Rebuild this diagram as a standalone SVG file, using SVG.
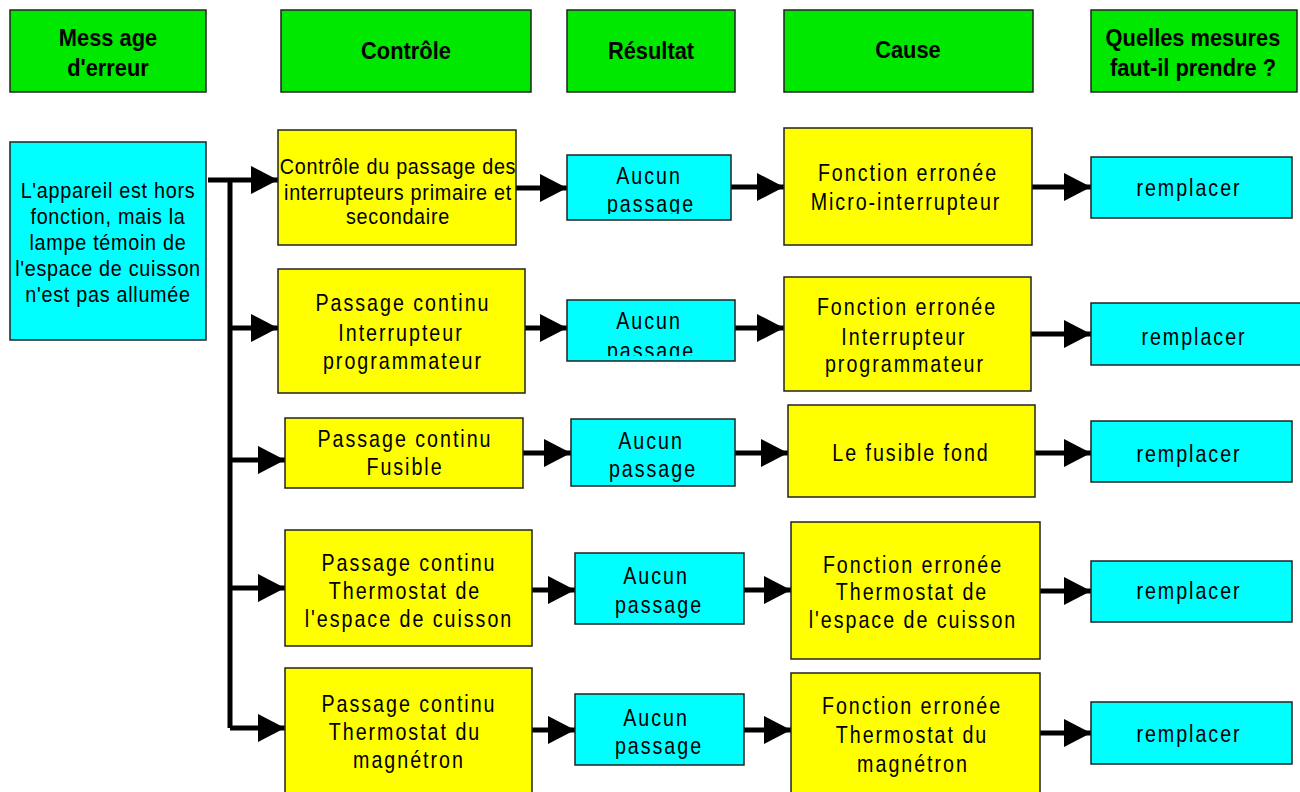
<svg xmlns="http://www.w3.org/2000/svg" width="1300" height="792" viewBox="0 0 1300 792">
<style>
.bg{fill:#fff}
.hd{fill:#00e800;stroke:#222;stroke-width:1.5}
.cy{fill:#00ffff;stroke:#222;stroke-width:1.5}
.ye{fill:#ffff00;stroke:#222;stroke-width:1.5}
text{font-family:"Liberation Sans",Arial,sans-serif;fill:#000;text-anchor:middle}
.h{font-weight:bold;font-size:23px;transform-box:fill-box;transform-origin:center;transform:scaleX(0.95)}
.t{font-size:24px;letter-spacing:2.4px;transform-box:fill-box;transform-origin:center;transform:scaleX(0.82)}
.s{font-size:22px;letter-spacing:0.8px;transform-box:fill-box;transform-origin:center;transform:scaleX(0.9)}
.c{fill:none;stroke:#000;stroke-width:5}
.a{fill:none;stroke:#000;stroke-width:5;marker-end:url(#ah)}
</style>
<defs>
<marker id="ah" markerUnits="userSpaceOnUse" markerWidth="28" markerHeight="28" refX="27" refY="14" orient="auto" viewBox="0 0 28 28">
<path d="M0,0 L27,14 L0,28 z" fill="#000"/>
</marker>
<clipPath id="clipA1"><rect x="567" y="155" width="164" height="59"/></clipPath>
<clipPath id="clipA2"><rect x="567" y="300" width="168" height="56"/></clipPath>
</defs>
<rect class="bg" width="1300" height="792"/>

<g id="headers">
<g id="h-message"><rect class="hd" x="10" y="10" width="196" height="82"/><text class="h" x="108" y="46">Mess age</text><text class="h" x="108" y="76">d'erreur</text></g>
<g id="h-controle"><rect class="hd" x="281" y="10" width="250" height="82"/><text class="h" x="406" y="59">Contrôle</text></g>
<g id="h-resultat"><rect class="hd" x="567" y="10" width="168" height="82"/><text class="h" x="651" y="59">Résultat</text></g>
<g id="h-cause"><rect class="hd" x="784" y="10" width="249" height="82"/><text class="h" x="908" y="58">Cause</text></g>
<g id="h-mesures"><rect class="hd" x="1091" y="10" width="206" height="82"/><text class="h" x="1193" y="46">Quelles mesures</text><text class="h" x="1193" y="76">faut-il prendre ?</text></g>
</g>

<g id="connectors">
<path class="c" d="M230,180 V728"/>
<path class="a" d="M208,180 H278"/>
<path class="a" d="M228,328 H278"/>
<path class="a" d="M228,460 H285"/>
<path class="a" d="M228,588 H285"/>
<path class="a" d="M230,728 H285"/>
<path class="a" d="M516,188 H567"/>
<path class="a" d="M731,187 H784"/>
<path class="a" d="M1032,187 H1091"/>
<path class="a" d="M525,328 H567"/>
<path class="a" d="M735,328 H784"/>
<path class="a" d="M1031,334 H1091"/>
<path class="a" d="M523,453 H571"/>
<path class="a" d="M735,453 H788"/>
<path class="a" d="M1035,453 H1091"/>
<path class="a" d="M532,590 H575"/>
<path class="a" d="M744,590 H791"/>
<path class="a" d="M1040,591 H1091"/>
<path class="a" d="M532,730 H575"/>
<path class="a" d="M744,730 H791"/>
<path class="a" d="M1040,733 H1091"/>
</g>

<g id="n-message">
<rect class="cy" x="10" y="142" width="196" height="198"/>
<text class="s" x="108" y="198">L'appareil est hors</text>
<text class="s" x="108" y="224">fonction, mais la</text>
<text class="s" x="108" y="250">lampe témoin de</text>
<text class="s" x="108" y="276">l'espace de cuisson</text>
<text class="s" x="108" y="302">n'est pas allumée</text>
</g>

<g id="n-c1"><rect class="ye" x="278" y="130" width="238" height="115"/>
<text class="s" x="398" y="174">Contrôle du passage des</text>
<text class="s" x="398" y="200">interrupteurs primaire et</text>
<text class="s" x="398" y="224">secondaire</text></g>
<g id="n-a1"><rect class="cy" x="567" y="155" width="164" height="65"/>
<g clip-path="url(#clipA1)"><text class="t" x="649" y="184">Aucun</text><text class="t" x="651" y="212">passage</text></g></g>
<g id="n-k1"><rect class="ye" x="784" y="128" width="248" height="117"/>
<text class="t" x="908" y="181">Fonction erronée</text>
<text class="t" x="906" y="210">Micro-interrupteur</text></g>
<g id="n-r1"><rect class="cy" x="1091" y="157" width="201" height="61"/>
<text class="t" x="1189" y="196">remplacer</text></g>

<g id="n-c2"><rect class="ye" x="278" y="269" width="247" height="124"/>
<text class="t" x="403" y="311">Passage continu</text>
<text class="t" x="401" y="341">Interrupteur</text>
<text class="t" x="403" y="369">programmateur</text></g>
<g id="n-a2"><rect class="cy" x="567" y="300" width="168" height="61"/>
<g clip-path="url(#clipA2)"><text class="t" x="649" y="329">Aucun</text><text class="t" x="651" y="359">passage</text></g></g>
<g id="n-k2"><rect class="ye" x="784" y="277" width="247" height="114"/>
<text class="t" x="907" y="315">Fonction erronée</text>
<text class="t" x="904" y="345">Interrupteur</text>
<text class="t" x="905" y="372">programmateur</text></g>
<g id="n-r2"><rect class="cy" x="1091" y="303" width="215" height="62"/>
<text class="t" x="1194" y="345">remplacer</text></g>

<g id="n-c3"><rect class="ye" x="285" y="418" width="238" height="70"/>
<text class="t" x="405" y="447">Passage continu</text>
<text class="t" x="405" y="475">Fusible</text></g>
<g id="n-a3"><rect class="cy" x="571" y="419" width="164" height="67"/>
<text class="t" x="651" y="449">Aucun</text><text class="t" x="653" y="477">passage</text></g>
<g id="n-k3"><rect class="ye" x="788" y="405" width="247" height="92"/>
<text class="t" x="911" y="461">Le fusible fond</text></g>
<g id="n-r3"><rect class="cy" x="1091" y="421" width="201" height="61"/>
<text class="t" x="1189" y="462">remplacer</text></g>

<g id="n-c4"><rect class="ye" x="285" y="530" width="247" height="116"/>
<text class="t" x="409" y="571">Passage continu</text>
<text class="t" x="405" y="599">Thermostat de</text>
<text class="t" x="409" y="627">l'espace de cuisson</text></g>
<g id="n-a4"><rect class="cy" x="575" y="553" width="169" height="71"/>
<text class="t" x="656" y="584">Aucun</text><text class="t" x="659" y="613">passage</text></g>
<g id="n-k4"><rect class="ye" x="791" y="522" width="249" height="137"/>
<text class="t" x="913" y="573">Fonction erronée</text>
<text class="t" x="912" y="600">Thermostat de</text>
<text class="t" x="913" y="628">l'espace de cuisson</text></g>
<g id="n-r4"><rect class="cy" x="1091" y="561" width="201" height="61"/>
<text class="t" x="1189" y="599">remplacer</text></g>

<g id="n-c5"><rect class="ye" x="285" y="668" width="247" height="140"/>
<text class="t" x="409" y="712">Passage continu</text>
<text class="t" x="405" y="740">Thermostat du</text>
<text class="t" x="409" y="768">magnétron</text></g>
<g id="n-a5"><rect class="cy" x="575" y="694" width="169" height="71"/>
<text class="t" x="656" y="726">Aucun</text><text class="t" x="659" y="754">passage</text></g>
<g id="n-k5"><rect class="ye" x="791" y="673" width="249" height="135"/>
<text class="t" x="912" y="714">Fonction erronée</text>
<text class="t" x="912" y="743">Thermostat du</text>
<text class="t" x="913" y="772">magnétron</text></g>
<g id="n-r5"><rect class="cy" x="1091" y="702" width="201" height="62"/>
<text class="t" x="1189" y="742">remplacer</text></g>
</svg>
